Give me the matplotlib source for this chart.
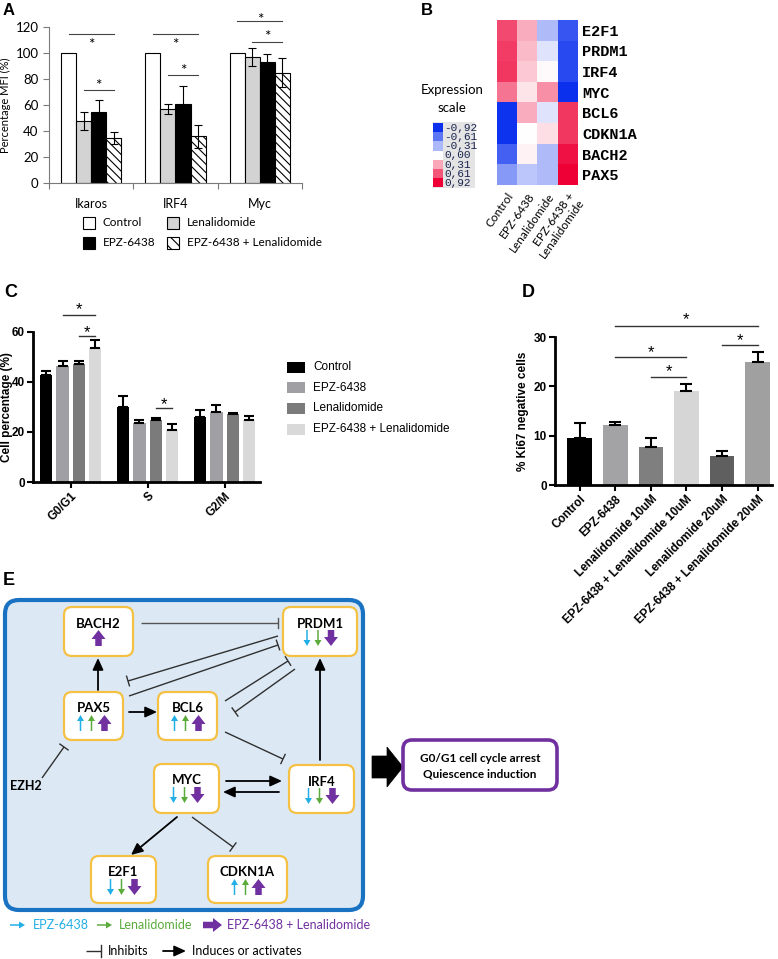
import matplotlib
matplotlib.use('Agg')
import matplotlib.pyplot as plt
import numpy as np
from matplotlib.patches import FancyBboxPatch, Rectangle, FancyArrow, Polygon
from matplotlib.colors import LinearSegmentedColormap

plt.rcParams['font.family'] = ['Liberation Sans', 'DejaVu Sans']
plt.rcParams['hatch.linewidth'] = 0.8

# ---------------- data ----------------
A_categories = ['Ikaros', 'IRF4', 'Myc']
A_series = ['Control', 'Lenalidomide', 'EPZ-6438', 'EPZ-6438 + Lenalidomide']
A_control = [100, 100, 100]
A_control_err = [0, 0, 0]
A_len = [48, 57, 97]
A_len_err = [7, 4, 7]
A_epz = [55, 61, 93]
A_epz_err = [8.5, 14, 6.5]
A_combo = [34.5, 36, 85]
A_combo_err = [4.6, 9, 11]
# significance: (category, series i, series j, line level, star level)
A_sig = [(0, 0, 3, 115, 110), (0, 1, 3, 71.5, 78),
         (1, 0, 3, 115, 110), (1, 1, 3, 83, 90),
         (2, 0, 3, 124.5, 129), (2, 1, 3, 108.5, 115.5)]

B_genes = ['E2F1', 'PRDM1', 'IRF4', 'MYC', 'BCL6', 'CDKN1A', 'BACH2', 'PAX5']
B_conditions = ['Control', 'EPZ-6438', 'Lenalidomide', 'EPZ-6438 +\nLenalidomide']
B_values = [[0.65, 0.30, -0.30, -0.75],
            [0.70, 0.25, -0.12, -0.80],
            [0.72, 0.20, 0.02, -0.80],
            [0.50, 0.10, 0.40, -0.92],
            [-0.90, 0.30, -0.12, 0.72],
            [-0.90, 0.00, 0.12, 0.72],
            [-0.70, 0.05, -0.30, 0.85],
            [-0.45, -0.25, -0.30, 0.92]]
B_scale = [-0.92, -0.61, -0.31, 0.00, 0.31, 0.61, 0.92]
B_scale_labels = ['-0,92', '-0,61', '-0,31', '0,00', '0,31', '0,61', '0,92']

C_phases = ['G0/G1', 'S', 'G2/M']
C_series = ['Control', 'EPZ-6438', 'Lenalidomide', 'EPZ-6438 + Lenalidomide']
C_control = [42.8, 30.1, 26.0]
C_control_err = [1.6, 4.4, 2.8]
C_epz = [46.5, 23.7, 28.2]
C_epz_err = [1.9, 1.2, 2.6]
C_len = [47.3, 25.0, 27.2]
C_len_err = [1.2, 0.6, 0.5]
C_combo = [53.7, 20.7, 24.9]
C_combo_err = [3.2, 2.4, 1.6]
C_sig = [(0, 1, 3, 67, 70.8), (0, 2, 3, 58.4, 61.5), (1, 2, 3, 29.8, 33)]

D_groups = ['Control', 'EPZ-6438', 'Lenalidomide 10uM', 'EPZ-6438 + Lenalidomide 10uM',
            'Lenalidomide 20uM', 'EPZ-6438 + Lenalidomide 20uM']
D_values = [9.6, 12.1, 7.7, 19.0, 5.8, 24.9]
D_err = [3.0, 0.7, 1.9, 1.5, 1.0, 2.1]
D_sig = [(1, 5, 32.3, 34.6), (1, 3, 26.0, 27.9), (2, 3, 21.9, 23.9), (4, 5, 28.4, 30.3)]

E_nodes = {'BACH2': (64, 607, 133, 656), 'PRDM1': (283, 607, 357, 656),
           'PAX5': (64, 692, 123, 740), 'BCL6': (158, 692, 217, 740),
           'MYC': (154, 764, 219, 813), 'IRF4': (289, 765, 354, 813),
           'E2F1': (91, 856, 156, 903), 'CDKN1A': (208, 856, 287, 903)}
E_effects = {'BACH2': (None, None, 'up'), 'PRDM1': ('down', 'down', 'down'),
             'PAX5': ('up', 'up', 'up'), 'BCL6': ('up', 'up', 'up'),
             'MYC': ('down', 'down', 'down'), 'IRF4': ('down', 'down', 'down'),
             'E2F1': ('down', 'down', 'down'), 'CDKN1A': ('up', 'up', 'up')}
E_inhibit = [((141, 623), (278, 623)), ((278, 636), (128, 681)), ((129, 696), (278, 645)),
             ((225, 701), (288, 661)), ((295, 669), (235, 712)), ((225, 732), (283, 759)),
             ((192, 817), (233, 847)), ((42, 778), (64, 747))]
E_activate = [((98, 690), (98, 658)), ((129, 712), (157, 712)), ((320, 760), (320, 658)),
              ((226, 781), (282, 781)), ((279, 792), (223, 792)), ((177, 817), (131, 855))]

# ---------------- figure ----------------
W, H = 778, 959
fig = plt.figure(figsize=(W / 100, H / 100), dpi=100)


def rect(x0, y0, x1, y1):
    return [x0 / W, 1 - y1 / H, (x1 - x0) / W, (y1 - y0) / H]


def star(ax, x, y, size=10, family=None):
    kw = {} if family is None else {'family': family}
    ax.annotate('*', xy=(x, y), xytext=(0, -size * 0.78), textcoords='offset pixels',
                ha='center', va='baseline', fontsize=size, annotation_clip=False, **kw)


# ---------------- Panel A ----------------
axA = fig.add_axes(rect(49, 27, 302, 183))
xA = np.arange(len(A_categories))
wA = 15 / 84
seriesA = [(A_control, A_control_err, 'white', None),
           (A_len, A_len_err, '#d3d3d3', None),
           (A_epz, A_epz_err, 'black', None),
           (A_combo, A_combo_err, 'white', '\\\\\\\\')]
for i, (v, e, c, h) in enumerate(seriesA):
    xs = xA + (i - 1.5) * wA
    axA.bar(xs, v, wA, color=c, edgecolor='black', linewidth=0.8, hatch=h, zorder=2)
    e = np.array(e)
    m = e > 0
    if m.any():
        axA.errorbar(xs[m], np.array(v)[m], yerr=e[m], fmt='none', ecolor='black',
                     elinewidth=0.8, capsize=3, capthick=0.8, zorder=3)
for cat, i, j, ly, sy in A_sig:
    x0 = cat + (i - 1.5) * wA
    x1 = cat + (j - 1.5) * wA
    axA.plot([x0, x1], [ly, ly], color='#444444', lw=0.8, clip_on=False)
    star(axA, (x0 + x1) / 2, sy, size=11, family='Lato')
axA.set_xlim(-0.5, 2.5)
axA.set_ylim(0, 120)
for s in ['top', 'right']:
    axA.spines[s].set_visible(False)
for s in ['left', 'bottom']:
    axA.spines[s].set_color('#7a7a7a')
    axA.spines[s].set_linewidth(0.8)
axA.set_yticks(range(0, 121, 20))
axA.set_xticks([-0.5, 0.5, 1.5, 2.5])
axA.set_xticklabels([])
axA.set_xticks(xA, minor=True)
axA.set_xticklabels(A_categories, minor=True, family='Lato', fontsize=9)
axA.tick_params(axis='x', which='minor', length=0, pad=11)
axA.tick_params(axis='both', which='major', direction='out', length=4, color='#7a7a7a')
for t in axA.get_yticklabels():
    t.set_family('Lato'); t.set_fontsize(9.5)
axA.set_ylabel('Percentage MFI (%)', family='Lato', fontsize=8, labelpad=3)
axA.patch.set_alpha(0)

# ---------------- Panel B ----------------
cmap = LinearSegmentedColormap.from_list('expr', ['#0a30ee', '#ffffff', '#ee0036'])
axB = fig.add_axes(rect(497, 20, 578, 185))
axB.imshow(np.array(B_values), cmap=cmap, vmin=-0.92, vmax=0.92, aspect='auto',
           interpolation='nearest')
axB.set_xticks(range(len(B_conditions)))
axB.set_xticklabels(B_conditions, rotation=55, ha='right', rotation_mode='anchor',
                    family='Lato', fontsize=8.5, linespacing=1.0)
axB.set_yticks(range(len(B_genes)))
axB.set_yticklabels(B_genes, family='Liberation Mono', fontweight='bold', fontsize=11)
axB.yaxis.tick_right()
axB.tick_params(length=0, pad=3)
axB.tick_params(axis='x', pad=4)
for s in axB.spines.values():
    s.set_visible(False)

# ---------------- Panel C ----------------
axC = fig.add_axes(rect(33, 332, 260, 482))
xC = np.arange(len(C_phases))
gC = 16.4 / 77
wC = 12.3 / 77
colC = ['#000000', '#a0a0a4', '#7b7b7b', '#d9d9d9']
seriesC = [(C_control, C_control_err), (C_epz, C_epz_err), (C_len, C_len_err), (C_combo, C_combo_err)]
for i, (v, e) in enumerate(seriesC):
    xs = xC + (i - 1.5) * gC
    axC.bar(xs, v, wC, color=colC[i], zorder=2)
    axC.errorbar(xs, v, yerr=[np.zeros(len(e)), e], fmt='none', ecolor='black',
                 elinewidth=1.5, capsize=3.5, capthick=1.5, zorder=3)
for g, i, j, ly, sy in C_sig:
    x0 = g + (i - 1.5) * gC
    x1 = g + (j - 1.5) * gC
    axC.plot([x0, x1], [ly, ly], color='#333333', lw=1, clip_on=False)
    star(axC, (x0 + x1) / 2, sy, size=12)
axC.set_xlim(-0.49, 2.46)
axC.set_ylim(0, 60)
for s in ['top', 'right']:
    axC.spines[s].set_visible(False)
for s in ['left', 'bottom']:
    axC.spines[s].set_linewidth(2)
axC.set_yticks([0, 20, 40, 60])
axC.set_xticks(xC)
axC.set_xticklabels(C_phases, rotation=45, ha='right', rotation_mode='anchor',
                    fontweight='bold', fontsize=8)
axC.tick_params(axis='both', direction='out', length=4, width=1.5, labelsize=8.5, pad=2)
for t in axC.get_yticklabels():
    t.set_fontweight('bold')
axC.set_ylabel('Cell percentage (%)', fontweight='bold', fontsize=8.5)
axC.yaxis.set_label_coords((13 - 33) / 227, 0.5)
axC.patch.set_alpha(0)

# ---------------- Panel D ----------------
axD = fig.add_axes(rect(555, 337, 772, 485))
xD = np.arange(len(D_groups))
colD = ['#000000', '#a3a3a6', '#7f7f7f', '#d6d6d6', '#5f5f5f', '#a0a0a0']
axD.bar(xD, D_values, 0.69, color=colD, zorder=2)
axD.errorbar(xD, D_values, yerr=[np.zeros(len(D_err)), D_err], fmt='none', ecolor='black',
             elinewidth=1.5, capsize=4, capthick=1.5, zorder=3)
for i, j, ly, sy in D_sig:
    axD.plot([i, j], [ly, ly], color='#333333', lw=1, clip_on=False)
    star(axD, (i + j) / 2, sy, size=12)
axD.set_xlim(-0.69, 5.4)
axD.set_ylim(0, 30)
for s in ['top', 'right']:
    axD.spines[s].set_visible(False)
for s in ['left', 'bottom']:
    axD.spines[s].set_linewidth(2)
axD.set_yticks([0, 10, 20, 30])
axD.set_xticks(xD)
axD.set_xticklabels(D_groups, rotation=45, ha='right', rotation_mode='anchor',
                    fontweight='bold', fontsize=7.5)
axD.tick_params(axis='both', direction='out', length=4, width=1.5, labelsize=8.5, pad=2)
for t in axD.get_yticklabels():
    t.set_fontweight('bold')
axD.set_ylabel('% Ki67 negative cells', fontweight='bold', fontsize=8.5, labelpad=3)
axD.patch.set_alpha(0)

# ---------------- overlay (labels, legends, panel E) ----------------
ov = fig.add_axes([0, 0, 1, 1])
ov.set_xlim(0, W)
ov.set_ylim(H, 0)
ov.axis('off')
ov.patch.set_alpha(0)

for lab, x, y, fs in [('A', 3, 15, 12), ('B', 421, 15, 12), ('C', 4, 297, 13),
                      ('D', 522, 297, 13), ('E', 3, 585, 13)]:
    ov.text(x, y, lab, fontsize=fs, fontweight='bold', va='baseline', ha='left')

# Panel A legend
legA = [(83, 223, 'white', None, A_series[0]), (167, 223, '#d3d3d3', None, A_series[1]),
        (83, 243, 'black', None, A_series[2]), (167, 243, 'white', '\\\\\\', A_series[3])]
for x, y, c, h, lab in legA:
    ov.add_patch(Rectangle((x, y - 6), 12, 12, facecolor=c, edgecolor='black', lw=0.8, hatch=h))
    ov.text(x + 20, y, lab, family='Lato', fontsize=8.5, va='center', ha='left')

# Panel B scale
ov.text(452, 90, 'Expression', family='Lato', fontsize=9.5, ha='center', va='center')
ov.text(452, 108, 'scale', family='Lato', fontsize=9.5, ha='center', va='center')
ov.add_patch(Rectangle((433, 122), 42, 66, facecolor='#e4e4e4', edgecolor='none'))
for k, (lv, lb) in enumerate(zip(B_scale, B_scale_labels)):
    yy = 123 + k * 9.2
    ov.add_patch(Rectangle((433, yy), 10, 9.2, facecolor=cmap((lv + 0.92) / 1.84), edgecolor='none'))
    ov.text(444, yy + 4.8, lb, family='Liberation Mono', fontsize=8, va='center', ha='left',
            color='#1a2550')

# Panel C legend
for k, lab in enumerate(C_series):
    yy = 367 + k * 20.7
    ov.add_patch(Rectangle((287, yy - 5.5), 18, 11, facecolor=colC[k], edgecolor='none'))
    ov.text(313, yy, lab, fontsize=8.5, va='center', ha='left')

# Panel E
CYAN, GREEN, PURPLE = '#22aee6', '#5aab3c', '#7030a0'
ov.add_patch(FancyBboxPatch((5, 600), 358, 310, boxstyle='round,pad=0,rounding_size=14',
                            facecolor='#dce9f5', edgecolor='#1a72c2', lw=3, zorder=1))


def inhibit(p0, p1, color='#3a3a3a', lw=1.0, bar=5):
    (x0, y0), (x1, y1) = p0, p1
    ov.plot([x0, x1], [y0, y1], color=color, lw=lw, zorder=2, solid_capstyle='butt')
    L = np.hypot(x1 - x0, y1 - y0)
    px, py = -(y1 - y0) / L, (x1 - x0) / L
    ov.plot([x1 - px * bar, x1 + px * bar], [y1 - py * bar, y1 + py * bar], color=color, lw=lw, zorder=2)


def activate(p0, p1, lw=1.3):
    ov.annotate('', xy=p1, xytext=p0, zorder=2,
                arrowprops=dict(arrowstyle='-|>,head_length=0.7,head_width=0.32', color='black',
                                lw=lw, shrinkA=0, shrinkB=0))


def small_arrow(x, y0, y1, color, big=False, horizontal=False):
    d = y1 - y0
    if big:
        kw = dict(width=6.5, head_width=14, head_length=9)
    else:
        kw = dict(width=1.5, head_width=7, head_length=6)
    if horizontal:
        ov.add_patch(FancyArrow(y0, x, d, 0, length_includes_head=True, color=color, lw=0, zorder=4, **kw))
    else:
        ov.add_patch(FancyArrow(x, y0, 0, d, length_includes_head=True, color=color, lw=0, zorder=4, **kw))


for p0, p1 in E_inhibit:
    inhibit(p0, p1, color='#555555' if p0[1] == p1[1] else '#303030')
for p0, p1 in E_activate:
    activate(p0, p1)

for name, (x0, y0, x1, y1) in E_nodes.items():
    ov.add_patch(FancyBboxPatch((x0, y0), x1 - x0, y1 - y0, boxstyle='round,pad=0,rounding_size=8',
                                facecolor='white', edgecolor='#f4c144', lw=1.6, zorder=3))
    cx = (x0 + x1) / 2
    ov.text(cx, y0 + 16.5, name, family='Lato', fontweight='bold', fontsize=9.5,
            ha='center', va='center', zorder=4)
    eff = E_effects[name]
    offs = [-13, -2, 11] if eff[0] is not None else [0, 0, 0]
    for k, (e, col) in enumerate(zip(eff, [CYAN, GREEN, PURPLE])):
        if e is None:
            continue
        top, bot = y0 + 23, y0 + 39
        if e == 'up':
            small_arrow(cx + offs[k], bot, top, col, big=(k == 2))
        else:
            small_arrow(cx + offs[k], top, bot, col, big=(k == 2))

ov.text(26, 786, 'EZH2', family='Lato', fontweight='bold', fontsize=9, ha='center', va='center')

# result box and big arrow
ov.add_patch(Polygon([(372, 756), (387, 756), (387, 747), (403, 767), (387, 787), (387, 778), (372, 778)],
                     closed=True, facecolor='black', edgecolor='black', lw=0.5))
ov.add_patch(FancyBboxPatch((403, 740), 154, 50, boxstyle='round,pad=0,rounding_size=9',
                            facecolor='white', edgecolor=PURPLE, lw=2.6))
ov.text(480, 758, 'G0/G1 cell cycle arrest', family='Lato', fontweight='bold', fontsize=8.5,
        ha='center', va='center')
ov.text(480, 774, 'Quiescence induction', family='Lato', fontweight='bold', fontsize=8.5,
        ha='center', va='center')

# legend of panel E
small_arrow(925, 10, 25, CYAN, horizontal=True)
ov.text(33, 925, 'EPZ-6438', family='Lato', fontsize=9, color=CYAN, va='center')
small_arrow(925, 97, 112, GREEN, horizontal=True)
ov.text(119, 925, 'Lenalidomide', family='Lato', fontsize=9, color=GREEN, va='center')
small_arrow(925, 203, 222, PURPLE, big=True, horizontal=True)
ov.text(227, 925, 'EPZ-6438 + Lenalidomide', family='Lato', fontsize=9, color=PURPLE, va='center')
inhibit((86, 951), (101, 951), color='#303030', bar=6)
ov.text(108, 951, 'Inhibits', family='Lato', fontsize=9, va='center')
activate((163, 951), (186, 951))
ov.text(192, 951, 'Induces or activates', family='Lato', fontsize=9, va='center')

fig.savefig('out.png', dpi=100)
